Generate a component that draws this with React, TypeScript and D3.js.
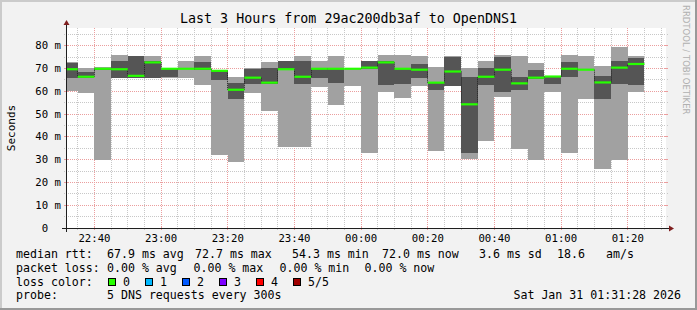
import React from "react";
import * as d3 from "d3";

// ---- time frame ----
const START = Date.UTC(2026, 0, 30, 22, 31, 28);
const END = Date.UTC(2026, 0, 31, 1, 31, 28);
const FIRST_BAR_END = Date.UTC(2026, 0, 30, 22, 35, 0);
const STEP = 5 * 60 * 1000;

// ---- sorted pings per 5-minute step (ms) ----
const ping1 = [60.3, 59.4, 29.9, 65.8, 65.8, 65.8, 66.0, 66.0, 62.8, 32.0, 29.1, 59.4, 51.5, 35.7, 35.7, 62.0, 54.2, 62.4, 33.1, 59.8, 57.2, 62.3, 33.6, 62.2, 30.3, 38.4, 57.7, 34.8, 29.7, 59.8, 33.1, 56.6, 26.0, 29.7, 59.8];
const ping2 = [66.0, 65.9, 69.5, 66.0, 66.0, 66.0, 66.5, 69.6, 69.4, 65.0, 56.6, 63.0, 63.3, 69.3, 63.4, 65.9, 63.8, 69.7, 69.6, 62.8, 63.1, 65.8, 60.7, 62.3, 33.1, 62.8, 59.9, 60.6, 65.4, 63.3, 66.4, 69.2, 56.6, 63.1, 62.8];
const median = [69.7, 66.4, 69.9, 69.7, 66.8, 72.7, 69.9, 69.9, 69.9, 69.0, 60.7, 66.0, 63.8, 69.7, 66.4, 69.9, 69.9, 69.9, 70.4, 72.7, 69.9, 69.5, 63.8, 68.7, 54.3, 66.4, 69.5, 63.5, 66.0, 66.5, 69.9, 69.5, 63.9, 70.4, 72.0];
const ping4 = [72.6, 68.5, 70.4, 73.3, 75.4, 73.2, 70.1, 70.2, 72.9, 69.2, 63.5, 70.0, 70.1, 73.3, 73.2, 70.1, 70.1, 70.0, 73.2, 73.2, 70.1, 72.0, 64.3, 75.1, 66.3, 70.4, 75.0, 66.3, 69.4, 66.6, 72.9, 69.8, 66.7, 73.3, 74.6];
const ping5 = [73.0, 70.1, 70.6, 75.9, 75.7, 75.5, 70.2, 73.3, 75.5, 69.4, 66.3, 70.2, 72.7, 73.5, 75.5, 73.3, 75.5, 70.2, 73.4, 75.9, 75.9, 75.5, 70.5, 75.4, 70.3, 73.3, 75.9, 75.5, 72.6, 66.8, 75.9, 75.5, 71.1, 79.6, 75.5];

// ---- axes ----
const yTickValues = [0, 10, 20, 30, 40, 50, 60, 70, 80];
const xTickLabels = ["22:40", "23:00", "23:20", "23:40", "00:00", "00:20", "00:40", "01:00", "01:20"];

// ---- texts ----
const titleText = "Last 3 Hours from 29ac200db3af to OpenDNS1";
const rttStats = ["67.9 ms avg", "72.7 ms max", "54.3 ms min", "72.0 ms now", "3.6 ms sd", "18.6", "am/s"];
const lossStats = ["0.00 % avg", "0.00 % max", "0.00 % min", "0.00 % now"];
const lossLabels = ["0", "1", "2", "3", "4", "5/5"];
const lossColorValues = ["#26ff00", "#00b8ff", "#0059ff", "#7e00ff", "#ff0000", "#a00000"];
const probeText = "5 DNS requests every 300s";
const dateText = "Sat Jan 31 01:31:28 2026";

// layout constants
const rttX = [107, 195, 292, 382, 479, 557, 606];
const lossX = [107, 193.5, 279.5, 364.5];
const boxX = [108, 145, 182, 219, 256, 293];

function labelTime(s: string) {
  const [h, m] = s.split(":").map(Number);
  return h >= 12 ? Date.UTC(2026, 0, 30, h, m) : Date.UTC(2026, 0, 31, h, m);
}

export default function App() {
  const W = 697, H = 310;
  const X0 = 66, X1 = 666, Y0 = 228, Y1 = 28;
  const x = d3.scaleUtc().domain([START, END]).range([X0, X1]);
  const y = d3.scaleLinear().domain([0, 87.8]).range([Y0, Y1]);
  const mono = "'DejaVu Sans Mono', monospace";
  const snap = (v: number) => Math.floor(v) + 0.5;

  const bars = median.map((m, i) => {
    const tEnd = FIRST_BAR_END + i * STEP;
    const tStart = Math.max(START, tEnd - STEP);
    return { x0: x(tStart), x1: x(tEnd), p1: ping1[i], p2: ping2[i], p3: m, p4: ping4[i], p5: ping5[i] };
  });

  const gridTimes = d3.utcMinute.every(5)!.range(new Date(START), new Date(END));
  const hGrid = d3.range(5, 87.8, 5);

  const minorCol = "#c8c8c8";
  const majorCol = "#eb9e9e";

  return (
    <svg width={W} height={H} style={{ display: "block", position: "fixed", left: 0, top: 0 }} xmlns="http://www.w3.org/2000/svg">
      {/* background & shading */}
      <rect x={0} y={0} width={W} height={H} fill="#f2f2f2" />
      <rect x={0} y={0} width={W} height={2} fill="#cbcbcb" />
      <rect x={0} y={0} width={2} height={H} fill="#cbcbcb" />
      <rect x={0} y={H - 2} width={W} height={2} fill="#999999" />
      <rect x={W - 2} y={0} width={2} height={H} fill="#999999" />

      {/* canvas */}
      <rect x={X0} y={Y1} width={X1 - X0} height={Y0 - Y1} fill="#ffffff" />

      {/* grid */}
      <g shapeRendering="crispEdges">
        {hGrid.map((v) => {
          const major = v % 10 === 0;
          const yy = snap(y(v));
          return (
            <g key={"h" + v}>
              <line x1={X0} x2={X1} y1={yy} y2={yy} stroke={major ? majorCol : minorCol} strokeDasharray="1,1" />
              <line x1={X0 - 2} x2={major ? X0 + 2 : X0 - 1} y1={yy} y2={yy} stroke={major ? majorCol : minorCol} />
              <line x1={major ? X1 - 2 : X1 + 1} x2={X1 + 2} y1={yy} y2={yy} stroke={major ? majorCol : minorCol} />
            </g>
          );
        })}
        {gridTimes.map((t) => {
          const major = t.getUTCMinutes() % 20 === 0;
          const xx = snap(x(t));
          return (
            <g key={"v" + t.getTime()}>
              <line x1={xx} x2={xx} y1={Y1} y2={Y0} stroke={major ? majorCol : minorCol} strokeDasharray="1,1" />
              <line x1={xx} x2={xx} y1={major ? Y0 - 2 : Y0 + 1} y2={Y0 + 2} stroke={major ? majorCol : minorCol} />
            </g>
          );
        })}
      </g>

      {/* smoke */}
      <g shapeRendering="crispEdges">
        {bars.map((b, i) => (
          <rect key={"l" + i} x={b.x0} width={b.x1 - b.x0} y={y(b.p5)} height={y(b.p1) - y(b.p5)} fill="#a1a1a1" />
        ))}
        {bars.map((b, i) => (
          <rect key={"d" + i} x={b.x0} width={b.x1 - b.x0} y={y(b.p4)} height={Math.max(0, y(b.p2) - y(b.p4))} fill="#555555" />
        ))}
      </g>

      {/* median step connectors */}
      <g>
        {bars.slice(0, -1).map((b, i) => {
          const xx = snap(b.x1);
          return (
            <line key={"c" + i} x1={xx} x2={xx} y1={y(b.p3)} y2={y(bars[i + 1].p3)} stroke="#202020" strokeDasharray="1,1" />
          );
        })}
      </g>

      {/* median */}
      <g>
        {bars.map((b, i) => (
          <line key={"m" + i} x1={b.x0} x2={b.x1} y1={y(b.p3)} y2={y(b.p3)} stroke="#26ff00" strokeWidth={2.2} />
        ))}
      </g>

      {/* axes */}
      <g shapeRendering="crispEdges">
        <line x1={X0 - 4} x2={X1 + 4} y1={Y0 + 0.5} y2={Y0 + 0.5} stroke="#1f1f1f" />
        <line x1={X0 + 0.5} x2={X0 + 0.5} y1={Y0 + 4} y2={Y1 - 4} stroke="#1f1f1f" />
      </g>
      <polygon points={`${X1 + 3},${Y0 - 2.5} ${X1 + 3},${Y0 + 3.5} ${X1 + 8},${Y0 + 0.5}`} fill="#7f1f1f" />
      <polygon points={`${X0 - 2.5},${Y1 - 3} ${X0 + 3.5},${Y1 - 3} ${X0 + 0.5},${Y1 - 8}`} fill="#7f1f1f" />

      {/* y labels */}
      <g fontFamily={mono} fontSize={10.67} fill="#000" textAnchor="end">
        {yTickValues.map((v) => (
          <text key={"yl" + v} x={61} y={snap(y(v)) + 3.3} style={{ whiteSpace: "pre" }}>
            {v === 0 ? "0\u00a0\u00a0" : `${v} m`}
          </text>
        ))}
      </g>

      {/* x labels */}
      <g fontFamily={mono} fontSize={10.67} fill="#000" textAnchor="middle">
        {xTickLabels.map((s) => (
          <text key={"xl" + s} x={x(labelTime(s))} y={241.5}>{s}</text>
        ))}
      </g>

      {/* title */}
      <text x={348.5} y={23.3} fontFamily={mono} fontSize={13.33} textAnchor="middle" fill="#000">{titleText}</text>

      {/* y-axis title */}
      <text transform={`translate(15,${(Y0 + Y1) / 2}) rotate(-90)`} fontFamily={mono} fontSize={11} textAnchor="middle" fill="#000">Seconds</text>

      {/* watermark */}
      <text transform="translate(683,5) rotate(90)" fontFamily="'DejaVu Sans', sans-serif" fontSize={8.5} fill="#b0b0b0">RRDTOOL / TOBI OETIKER</text>

      {/* legend */}
      <g fontFamily={mono} fontSize={11.6} fill="#000" style={{ whiteSpace: "pre" }}>
        <text x={16} y={258}>median rtt:</text>
        {rttStats.map((s, i) => (
          <text key={"r" + i} x={rttX[i]} y={258}>{s}</text>
        ))}
        <text x={16} y={272}>packet loss:</text>
        {lossStats.map((s, i) => (
          <text key={"p" + i} x={lossX[i]} y={272}>{s}</text>
        ))}
        <text x={16} y={285.5}>loss color:</text>
        {lossLabels.map((s, i) => (
          <g key={"b" + i}>
            <rect x={boxX[i] + 0.5} y={278.5} width={7} height={7} fill={lossColorValues[i]} stroke="#000" strokeWidth={1} shapeRendering="crispEdges" />
            <text x={boxX[i] + 15} y={285.5}>{s}</text>
          </g>
        ))}
        <text x={16} y={299}>probe:</text>
        <text x={107} y={299}>{probeText}</text>
        <text x={681} y={299} textAnchor="end">{dateText}</text>
      </g>
    </svg>
  );
}
